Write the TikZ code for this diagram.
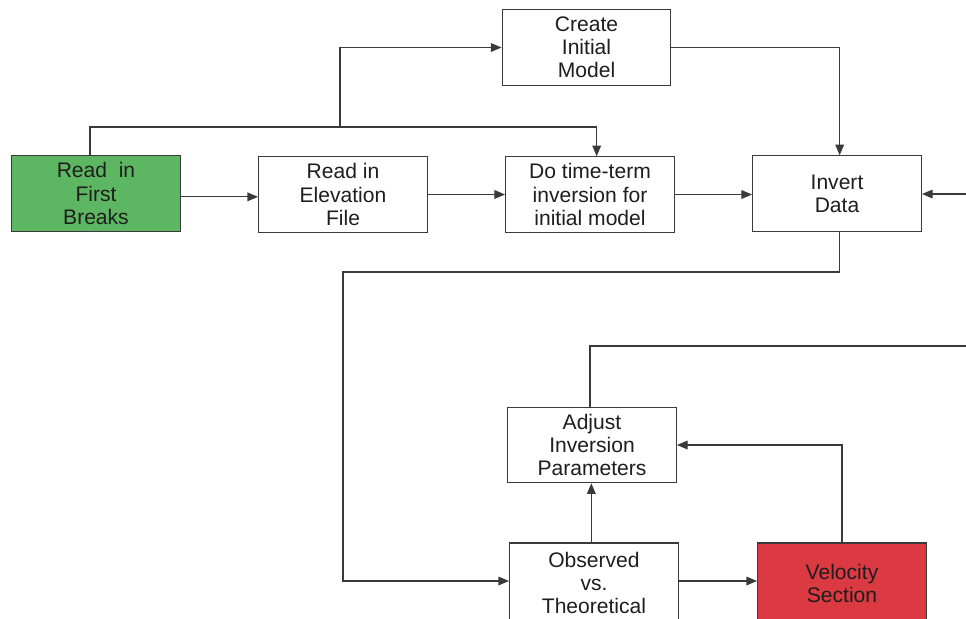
\documentclass[tikz,border=0pt]{standalone}
\usepackage{fontspec}
\setmainfont{Liberation Sans}
\usetikzlibrary{arrows.meta}
\definecolor{linec}{HTML}{3A3A3A}
\definecolor{boxgreen}{HTML}{5DB661}
\definecolor{boxred}{HTML}{DB3A42}
\definecolor{txt}{HTML}{1E1E1E}
\begin{document}
\begin{tikzpicture}[x=0.75pt,y=-0.75pt,
  box/.style={draw=linec,line width=0.9pt,fill=white,minimum width=126.5pt,minimum height=56.5pt,
    align=center,inner sep=0pt,text=txt,font=\fontsize{15.8pt}{17.3pt}\selectfont},
  tallbox/.style={box,minimum height=60pt},
  conn/.style={draw=linec,line width=0.9pt},
  arr/.style={conn,-{Triangle[length=8pt,width=6.5pt]}}]
\useasboundingbox (0,0) rectangle (966,618);
\begin{scope}
\clip (0,0) rectangle (966,618);
\node[box] (init) at (586.5,47.5) {Create\\Initial\\Model};
\node[box,fill=boxgreen] (fb) at (96,193.5) {Read\ \ in\\First\\Breaks};
\node[box] (elev) at (343,194.5) {Read in\\Elevation\\File};
\node[box] (tt) at (590,194.5) {Do time-term\\inversion for\\initial model};
\node[box] (inv) at (837,193.5) {Invert\\Data};
\node[box] (adj) at (592,445) {Adjust\\Inversion\\Parameters};
\node[tallbox] (obs) at (594,583) {Observed\\vs.\\Theoretical};
\node[tallbox,fill=boxred] (vel) at (842,583) {Velocity\\Section};
\coordinate (j1) at (340,127);
\coordinate (j2) at (343,272);
\coordinate (rin) at (966,194);
\coordinate (rout) at (966,346);
\draw[conn] ([xshift=-4.5pt]fb.north) |- (j1);
\draw[arr] (j1) -| ([xshift=5pt]tt.north);
\draw[arr] (j1) |- (init.west);
\draw[arr] (init.east) -| ([xshift=2pt]inv.north);
\draw[arr] ([yshift=-2.5pt]fb.east) -- ([yshift=-2.5pt]fb.east -| elev.west);
\draw[arr] (elev.east) -- (tt.west);
\draw[arr] (tt.east) -- (tt.east -| inv.west);
\draw[arr] (rin) -- (rin -| inv.east);
\draw[arr] ([xshift=2pt]inv.south) |- (j2) |- ([yshift=1.5pt]obs.west);
\draw[arr] ([xshift=-2pt]obs.north) -- ([xshift=-2pt]obs.north |- adj.south);
\draw[arr] ([yshift=1.5pt]obs.east) -- ([yshift=1.5pt]vel.west);
\draw[arr] (vel.north) |- (adj.east);
\draw[conn] ([xshift=-1.5pt]adj.north) |- (rout);
\end{scope}
\end{tikzpicture}
\end{document}
